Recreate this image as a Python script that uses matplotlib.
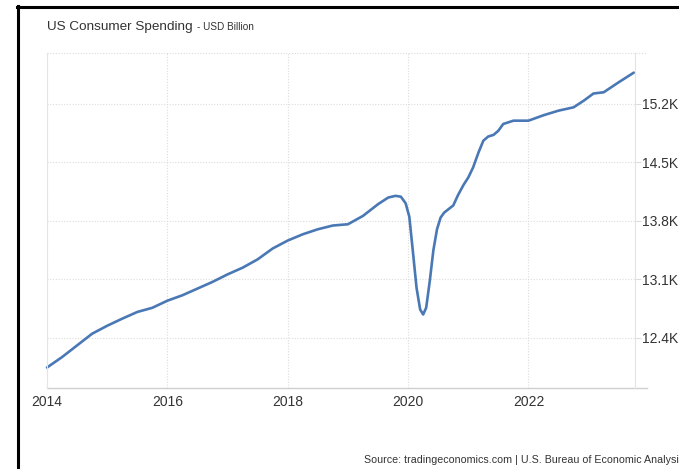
import matplotlib
matplotlib.use("Agg")
import matplotlib.pyplot as plt
from matplotlib.lines import Line2D
from matplotlib.ticker import FuncFormatter

plt.rcParams['font.family'] = ['Liberation Sans', 'DejaVu Sans']

# US consumer spending, USD billion (decimal year, value)
dates = [2014.00, 2014.25, 2014.50, 2014.75, 2015.00, 2015.25, 2015.50, 2015.75,
         2016.00, 2016.25, 2016.50, 2016.75, 2017.00, 2017.25, 2017.50, 2017.75,
         2018.00, 2018.25, 2018.50, 2018.75, 2019.00, 2019.25, 2019.50, 2019.67,
         2019.79, 2019.88, 2019.96, 2020.02, 2020.08, 2020.14, 2020.20, 2020.25,
         2020.30, 2020.36, 2020.42, 2020.48, 2020.54, 2020.60, 2020.67, 2020.75,
         2020.83, 2020.92, 2021.00, 2021.08, 2021.17, 2021.25, 2021.33, 2021.42,
         2021.50, 2021.58, 2021.75, 2022.00, 2022.25, 2022.50, 2022.75, 2022.92,
         2023.08, 2023.25, 2023.50, 2023.75]
spending = [12045, 12170, 12310, 12450, 12545, 12630, 12710, 12760,
            12845, 12910, 12990, 13070, 13160, 13240, 13340, 13470,
            13565, 13640, 13700, 13745, 13760, 13860, 14000, 14080,
            14100, 14090, 14010, 13850, 13430, 13000, 12740, 12680,
            12760, 13080, 13450, 13700, 13840, 13900, 13940, 13985,
            14110, 14230, 14320, 14440, 14620, 14760, 14810, 14830,
            14880, 14960, 15000, 15000, 15065, 15120, 15160, 15240,
            15325, 15340, 15460, 15575]

year_ticks = [2014, 2016, 2018, 2020, 2022]
value_ticks = [12400, 13100, 13800, 14500, 15200]

W, H = 679, 469
fig = plt.figure(figsize=(W / 100, H / 100), dpi=100)
ax = fig.add_axes([47 / W, 1 - 388 / H, (635 - 47) / W, (388 - 53) / H])

ax.plot(dates, spending, color='#4a78b5', lw=1.9, solid_joinstyle='round',
        solid_capstyle='round', clip_on=False)

ax.set_xlim(2014, 2023.77)
ax.set_ylim(11800, 15810)
ax.set_xticks(year_ticks)
ax.set_yticks(value_ticks)
ax.yaxis.set_major_formatter(FuncFormatter(lambda v, p: f"{v / 1000:.1f}K"))
ax.yaxis.tick_right()

grid_col = '#dcdcdc'
ax.grid(True, color=grid_col, linestyle=(0, (1, 1.5)), lw=0.8)
ax.tick_params(axis='x', length=0, pad=5, labelsize=10, labelcolor='#333333')
ax.tick_params(axis='y', length=4, width=0.8, color=grid_col, pad=1,
               labelsize=10, labelcolor='#333333')

for side in ('left', 'right'):
    ax.spines[side].set_color('#e4e4e4')
    ax.spines[side].set_linewidth(0.8)
ax.spines['top'].set_visible(False)
ax.spines['bottom'].set_visible(False)

# bottom axis line and top dotted rule run a little past the plot area
ax.add_line(Line2D([0, 1.02], [0, 0], transform=ax.transAxes, color='#d0d0d0',
                   lw=1.0, clip_on=False))
ax.add_line(Line2D([0, 1.02], [1, 1], transform=ax.transAxes, color=grid_col,
                   lw=0.8, linestyle=(0, (1, 1.5)), clip_on=False))

# black frame on the left and top edges
fig.add_artist(Line2D([17.8 / W, 17.8 / W], [0, 1 - 6 / H], color='black', lw=2.2))
fig.add_artist(Line2D([16.5 / W, 1], [1 - 7 / H, 1 - 7 / H], color='black', lw=2.2))

fig.text(47 / W, 1 - 27 / H, "US Consumer Spending", fontsize=9.7,
         color='#333333', va='center', ha='left')
fig.text(197 / W, 1 - 27.5 / H, "- USD Billion", fontsize=7.2, color='#333333',
         va='center', ha='left')
fig.text(364 / W, 1 - 460 / H,
         "Source: tradingeconomics.com | U.S. Bureau of Economic Analysis",
         fontsize=7.7, color='#333333', va='center', ha='left')

fig.savefig('out.png', dpi=100)
